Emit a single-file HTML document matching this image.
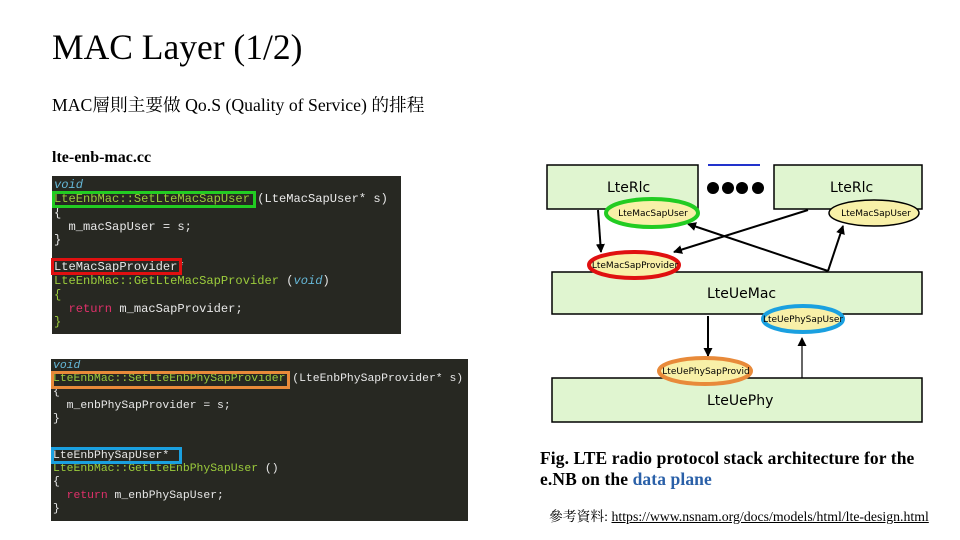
<!DOCTYPE html>
<html><head><meta charset="utf-8"><style>
body{margin:0;width:960px;height:540px;background:#fff;position:relative;overflow:hidden;font-family:"Liberation Serif","Noto Serif CJK SC",serif}
.a{position:absolute;white-space:nowrap}
.code{position:absolute;background:#272822;font-family:"Liberation Mono",monospace;font-size:11.4px;color:#e8e8e8}
.code div{position:absolute;left:2px;white-space:pre}
.g{color:#9ccc3c}.k{color:#66b8d8;font-style:italic}.r{color:#e0306a}
.hb{position:absolute;border:3px solid;box-sizing:border-box}
</style></head><body>
<div class="a" style="left:52px;top:26px;font-size:35.5px">MAC Layer (1/2)</div>
<div class="a" style="left:52px;top:92px;font-size:17.7px">MAC層則主要做 Qo.S (Quality of Service) 的排程</div>
<div class="a" style="left:52px;top:149px;font-size:16px;font-weight:bold">lte-enb-mac.cc</div>

<div class="code" style="left:52px;top:176px;width:349px;height:158px;font-size:12.1px">
<div class="k" style="top:2px">void</div>
<div class="g" style="top:16px">LteEnbMac::SetLteMacSapUser <span style="color:#e8e8e8">(LteMacSapUser* s)</span></div>
<div style="top:30px">{</div>
<div style="top:44px">  m_macSapUser = s;</div>
<div style="top:57px">}</div>
<div style="top:84px">LteMacSapProvider*</div>
<div class="g" style="top:98px">LteEnbMac::GetLteMacSapProvider <span style="color:#e8e8e8">(<span class="k">void</span>)</span></div>
<div class="g" style="top:112px">{</div>
<div style="top:126px">  <span class="r">return</span> m_macSapProvider;</div>
<div class="g" style="top:139px">}</div>
</div>
<div class="code" style="left:51px;top:359px;width:417px;height:162px">
<div class="k" style="top:1px">void</div>
<div class="g" style="top:14px">LteEnbMac::SetLteEnbPhySapProvider <span style="color:#e8e8e8">(LteEnbPhySapProvider* s)</span></div>
<div style="top:27px">{</div>
<div style="top:41px">  m_enbPhySapProvider = s;</div>
<div style="top:54px">}</div>
<div style="top:91px">LteEnbPhySapUser*</div>
<div class="g" style="top:104px">LteEnbMac::GetLteEnbPhySapUser <span style="color:#e8e8e8">()</span></div>
<div style="top:117px">{</div>
<div style="top:131px">  <span class="r">return</span> m_enbPhySapUser;</div>
<div style="top:144px">}</div>
</div>
<div class="hb" style="left:52px;top:191px;width:204px;height:17px;border-color:#22cc22"></div>
<div class="hb" style="left:51px;top:258px;width:131px;height:17px;border-color:#e01010"></div>
<div class="hb" style="left:51px;top:371px;width:239px;height:18px;border-color:#e88a3a"></div>
<div class="hb" style="left:51px;top:447px;width:131px;height:17px;border-color:#1aa0e0"></div>

<svg class="a" style="left:0;top:0" width="960" height="540" font-family="DejaVu Sans, sans-serif">
<defs><marker id="ar" markerWidth="9" markerHeight="9" refX="8" refY="4.5" orient="auto" markerUnits="userSpaceOnUse"><path d="M0,0 L9,4.5 L0,9 z" fill="#000"/></marker></defs>
<path d="M606,165 Q650,178 694,165 Z" fill="#f8f0a8" stroke="#000"/>
<path d="M834,165 Q876,178 918,165 Z" fill="#f8f0a8" stroke="#000"/>
<rect x="547" y="165" width="151" height="44" fill="#e0f5d0" stroke="#000" stroke-width="1.5"/>
<rect x="774" y="165" width="148" height="44" fill="#e0f5d0" stroke="#000" stroke-width="1.5"/>
<line x1="708" y1="165" x2="760" y2="165" stroke="#2233cc" stroke-width="2"/>
<circle cx="713" cy="188" r="6"/><circle cx="728" cy="188" r="6"/><circle cx="742" cy="188" r="6"/><circle cx="758" cy="188" r="6"/>
<text x="607" y="192" font-size="14">LteRlc</text><text x="830" y="192" font-size="14">LteRlc</text>
<rect x="552" y="272" width="370" height="42" fill="#e0f5d0" stroke="#000" stroke-width="1.5"/>
<rect x="552" y="378" width="370" height="44" fill="#e0f5d0" stroke="#000" stroke-width="1.5"/>
<text x="707" y="298" font-size="14">LteUeMac</text><text x="707" y="405" font-size="14">LteUePhy</text>
<g stroke="#000" stroke-width="2" marker-end="url(#ar)">
<line x1="598" y1="210" x2="601" y2="252"/>
<line x1="808" y1="210" x2="674" y2="252"/>
<line x1="828" y1="271" x2="688" y2="224"/>
<line x1="828" y1="271" x2="843" y2="226"/>
<line x1="708" y1="316" x2="708" y2="356"/>
<line x1="802" y1="378" x2="802" y2="338" stroke-width="1.2"/>
</g>
<ellipse cx="652" cy="213" rx="46" ry="14" fill="#f8f0a8" stroke="#22cc22" stroke-width="4"/>
<ellipse cx="874" cy="213" rx="45" ry="13" fill="#f8f0a8" stroke="#000" stroke-width="1.5"/>
<ellipse cx="634" cy="265" rx="45" ry="13" fill="#f8f0a8" stroke="#e01010" stroke-width="4"/>
<ellipse cx="803" cy="319" rx="40" ry="13" fill="#f8f0a8" stroke="#1aa0e0" stroke-width="4"/>
<ellipse cx="705" cy="371" rx="46" ry="13" fill="#f8f0a8" stroke="#e88a3a" stroke-width="4"/>
<g font-size="9" text-anchor="middle">
<text x="653" y="216">LteMacSapUser</text><text x="876" y="216">LteMacSapUser</text>
<text x="635" y="268">LteMacSapProvider</text><text x="803" y="322">LteUePhySapUser</text>
<text x="706" y="374">LteUePhySapProvid</text></g>
</svg>

<div class="a" style="left:540px;top:448px;font-size:17.5px;font-weight:bold;line-height:21px;letter-spacing:0.1px">Fig. LTE radio protocol stack architecture for the<br>e.NB on the <span style="color:#2a60a8">data plane</span></div>
<div class="a" style="left:549px;top:505px;font-size:13.8px">參考資料: <span style="text-decoration:underline">https://www.nsnam.org/docs/models/html/lte-design.html</span></div>
</body></html>
